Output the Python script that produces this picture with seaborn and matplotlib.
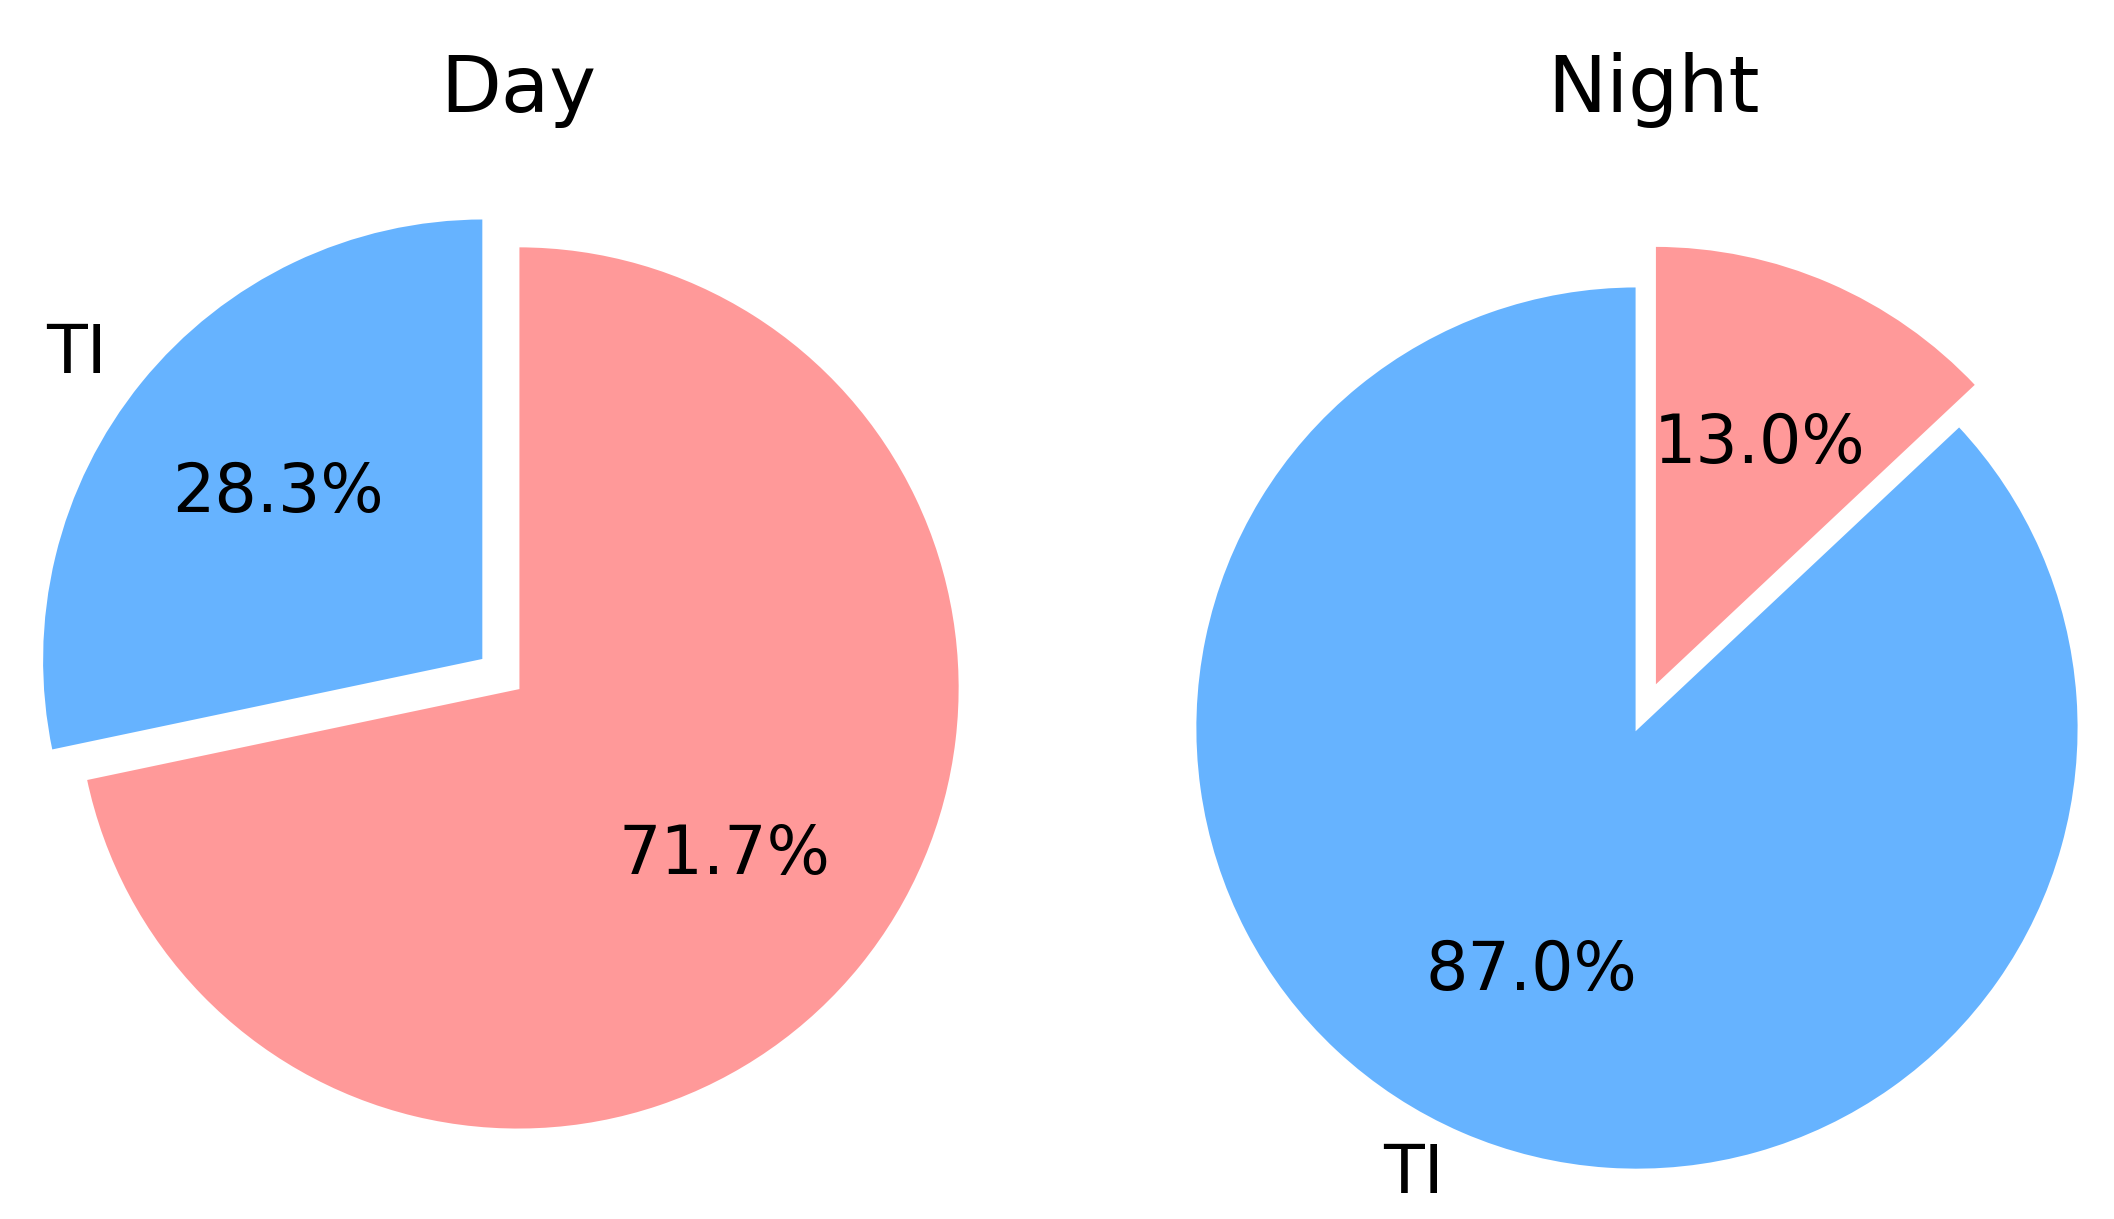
import matplotlib
matplotlib.use("Agg")
import matplotlib.pyplot as plt
import seaborn as sns

sns.set_style("white")
plt.rcParams['font.family'] = ['DejaVu Sans']
plt.rcParams['text.color'] = 'black'

# Data
titles = ['Day', 'Night']
day_labels = ['TI', '']
day_values = [28.3, 71.7]
night_labels = ['TI', '']
night_values = [87.0, 13.0]
slice_colors = ['#66b3ff', '#ff9999']

fig = plt.figure(figsize=(10.57, 6.095))

# axes placed so both pies have the same radius, like the original
ax_day = fig.add_axes([-0.0163, -0.0176, 0.5227, 0.9065])
ax_night = fig.add_axes([0.5130, -0.0505, 0.5227, 0.9065])

# Day pie - TI slice pulled out
ax_day.pie(day_values, labels=day_labels, colors=slice_colors, explode=[0.1, 0],
           autopct='%1.1f%%', startangle=90,
           textprops={'fontsize': 24, 'color': 'black'})
ax_day.set_xlim(-1.25, 1.25)
ax_day.set_ylim(-1.25, 1.25)

# Night pie - other slice pulled out
ax_night.pie(night_values, labels=night_labels, colors=slice_colors, explode=[0, 0.1],
             autopct='%1.1f%%', startangle=90,
             textprops={'fontsize': 24, 'color': 'black'})
ax_night.set_xlim(-1.25, 1.25)
ax_night.set_ylim(-1.25, 1.25)

fig.text(0.245, 0.908, titles[0], fontsize=28.5, ha='center', va='baseline')
fig.text(0.782, 0.908, titles[1], fontsize=28.5, ha='center', va='baseline')

plt.savefig('out.png', dpi=200)
